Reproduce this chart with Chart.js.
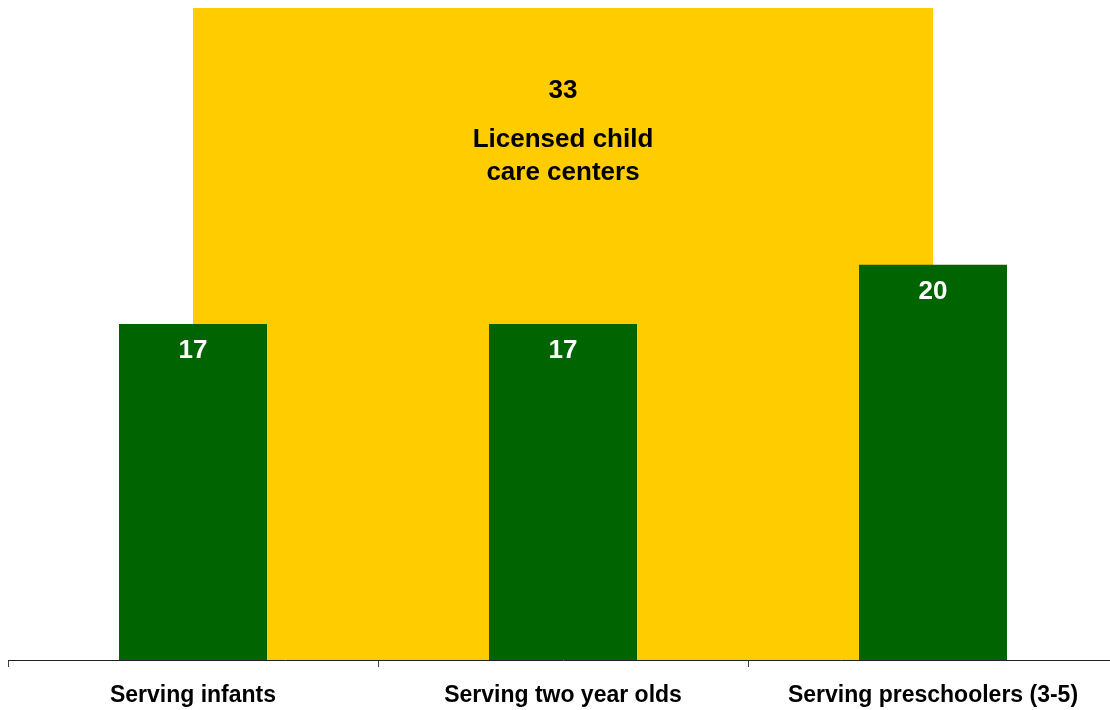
<!DOCTYPE html>
<html>
<head>
<meta charset="utf-8">
<script src="https://cdn.jsdelivr.net/npm/chart.js@4.4.1/dist/chart.umd.min.js"></script>
<style>
  html, body { margin: 0; padding: 0; background: #ffffff; overflow: hidden; }
  #wrap { width: 1118px; height: 710px; position: relative; }
</style>
</head>
<body>
<div id="wrap"><canvas id="c" width="1118" height="710"></canvas></div>
<script>
// ---- data ----
const categories = ['Serving infants', 'Serving two year olds', 'Serving preschoolers (3-5)'];
const servingValues = [17, 17, 20];
const totalValues = [null, 33, null];
const totalCaption = ['Licensed child', 'care centers'];
const yMin = 0;
const yMax = 33;

const FONT = '"Liberation Sans", Arial, Helvetica, sans-serif';

const labelPlugin = {
  id: 'barLabels',
  afterDatasetsDraw(chart) {
    const ctx = chart.ctx;
    ctx.save();
    ctx.textAlign = 'center';
    ctx.textBaseline = 'middle';
    // green bars
    const m0 = chart.getDatasetMeta(0);
    m0.data.forEach((bar, i) => {
      const v = servingValues[i];
      if (v == null) return;
      ctx.fillStyle = '#ffffff';
      ctx.font = 'bold 26px ' + FONT;
      ctx.fillText(String(v), bar.x, bar.y + 27);
    });
    // yellow total bar
    const m1 = chart.getDatasetMeta(1);
    m1.data.forEach((bar, i) => {
      const v = totalValues[i];
      if (v == null) return;
      ctx.fillStyle = '#000000';
      ctx.font = 'bold 26px ' + FONT;
      ctx.fillText(String(v), bar.x, bar.y + 83);
      ctx.font = 'bold 26px ' + FONT;
      totalCaption.forEach((line, k) => {
        ctx.fillText(line, bar.x, bar.y + 132 + k * 33);
      });
    });
    ctx.restore();
  }
};

new Chart(document.getElementById('c'), {
  type: 'bar',
  data: {
    labels: categories,
    datasets: [
      {
        label: 'Serving',
        data: servingValues,
        backgroundColor: '#006400',
        borderWidth: 0,
        grouped: false,
        categoryPercentage: 1.0,
        barPercentage: 0.4
      },
      {
        label: 'Licensed child care centers',
        data: totalValues,
        backgroundColor: '#FFCC00',
        borderWidth: 0,
        grouped: false,
        categoryPercentage: 1.0,
        barPercentage: 2.0
      }
    ]
  },
  options: {
    responsive: false,
    animation: false,
    layout: { padding: { left: 8, top: 8, right: 0, bottom: 0 } },
    plugins: {
      legend: { display: false },
      tooltip: { enabled: false }
    },
    scales: {
      x: {
        offset: true,
        afterFit(scale) { scale.height = 50; },
        grid: {
          offset: true,
          drawOnChartArea: false,
          drawTicks: true,
          tickLength: 7,
          color: '#444444',
          lineWidth: 1
        },
        border: { display: true, color: '#222222', width: 1 },
        ticks: {
          color: '#000000',
          padding: 15,
          maxRotation: 0,
          autoSkip: false,
          font: { family: FONT, size: 23, weight: 'bold' }
        }
      },
      y: {
        display: false,
        min: yMin,
        max: yMax,
        beginAtZero: true
      }
    }
  },
  plugins: [labelPlugin]
});
</script>
</body>
</html>
